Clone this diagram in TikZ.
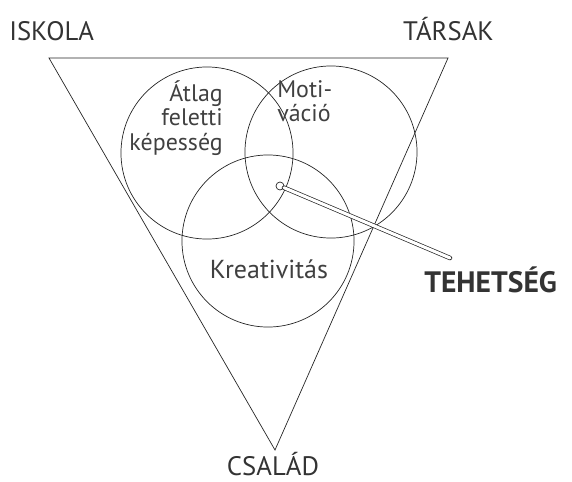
\documentclass[tikz,border=0pt]{standalone}
\usepackage{fontspec}
\setmainfont{PT Sans}
\usetikzlibrary{positioning}

\begin{document}
\begin{tikzpicture}[x=0.025cm,y=-0.025cm,
  ring/.style={draw=black!85,circle,minimum size=4.3cm,inner sep=0pt,line width=0.5pt},
  edge/.style={draw=black!85,line width=0.5pt},
  lab/.style={font=\fontsize{19}{21}\selectfont,text=black!80,inner sep=0pt},
  inlab/.style={font=\fontsize{17}{17.5}\selectfont,text=black!75,inner sep=0pt},
  dot/.style={draw=black!85,circle,fill=white,minimum size=0.2cm,inner sep=0pt,line width=0.5pt},
  pointer/.style={draw=black!85,double=white,double distance=2.2pt,line width=0.5pt,line cap=round}]
 \useasboundingbox (0,0) rectangle (572,481);
 % triangle
 \coordinate (tl) at (49,58);
 \coordinate (tr) at (448,58);
 \coordinate (bt) at (275,450);
 \draw[edge] (tl) -- (tr) -- (bt) -- cycle;
 % circles
 \node[ring] (kepes) at (207,153) {};
 \node[ring] (motiv) at (331,152) {};
 \node[ring] (kreat) at (268,241) {};
 % pointer
 \node[dot] (tip) at (280,186) {};
 \coordinate (tail) at (450,258);
 \draw[pointer] (tip) -- (tail);
 % labels
 \node[lab,anchor=base west] (iskola) at (9,40) {ISKOLA};
 \node[lab,anchor=base east] (tarsak) at (494,40) {TÁRSAK};
 \node[lab,anchor=base] (csalad) at (273,475) {CSALÁD};
 \node[inlab,align=right,anchor=north east] (kepes-t) at (223,80) {Átlag\\feletti\\képesség};
 \node[inlab,align=left,anchor=north west] (motiv-t) at (277,80) {Moti-\\váció};
 \node[inlab,font=\fontsize{18.5}{19}\selectfont,anchor=base] (kreat-t) at (269,278) {Kreativitás};
 \node[lab,font=\fontsize{21}{23}\selectfont\bfseries,anchor=base west] (tehet) at (424,292) {TEHETSÉG};
\end{tikzpicture}
\end{document}
